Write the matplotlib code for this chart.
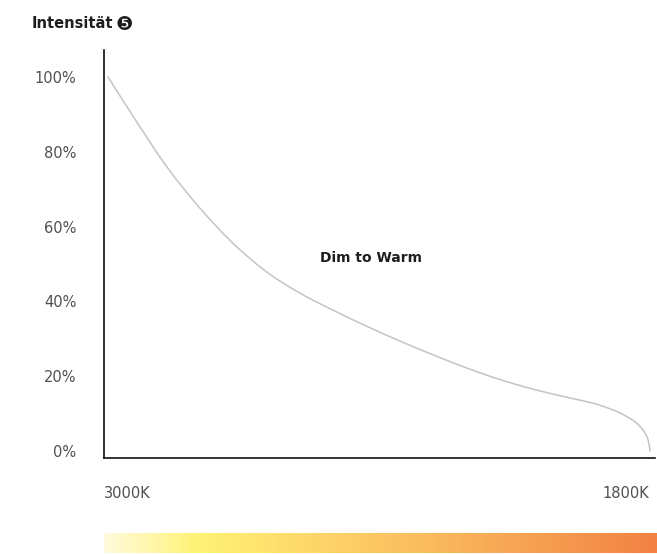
import numpy as np
import matplotlib
matplotlib.use("Agg")
import matplotlib.pyplot as plt
from matplotlib.colors import LinearSegmentedColormap
from matplotlib.path import Path
from matplotlib.patches import PathPatch

plt.rcParams["font.family"] = ["DejaVu Sans"]

# curve: colour temperature (K) vs intensity (%)
kelvin = [3000, 2944, 2870, 2797, 2723, 2649, 2575, 2501, 2428, 2354, 2280, 2206,
          2132, 2058, 1985, 1927, 1896, 1867, 1834, 1816, 1806, 1802, 1800]
intensity = [100, 89.4, 76.0, 65.0, 55.5, 47.9, 42.2, 37.6, 33.4, 29.4, 25.7, 22.2,
             19.1, 16.5, 14.4, 12.8, 11.6, 10.2, 7.9, 5.7, 3.6, 1.7, 0]
y_ticks = [0, 20, 40, 60, 80, 100]
x_labels = ["3000K", "1800K"]
title = "Intensität"
badge = "\u277a"
curve_label = "Dim to Warm"


def smooth_path(xs, ys):
    """Catmull-Rom through the points, drawn as cubic Bezier segments."""
    pts = np.column_stack([xs, ys]).astype(float)
    verts = [pts[0]]
    codes = [Path.MOVETO]
    n = len(pts)
    for i in range(n - 1):
        p0 = pts[max(i - 1, 0)]
        p1 = pts[i]
        p2 = pts[i + 1]
        p3 = pts[min(i + 2, n - 1)]
        verts += [p1 + (p2 - p0) / 6, p2 - (p3 - p1) / 6, p2]
        codes += [Path.CURVE4] * 3
    return Path(verts, codes)


W, H = 657, 554
fig = plt.figure(figsize=(W / 100, H / 100), dpi=100)
ax = fig.add_axes([104 / W, 1 - 458 / H, 551 / W, 408 / H])

ax.add_patch(PathPatch(smooth_path(kelvin, intensity), facecolor="none",
                       edgecolor="#c4c4c4", linewidth=1.1, capstyle="round"))
ax.set_xlim(3008.9, 1788.9)
ax.set_ylim(-1.87, 107.2)

for s in ["top", "right"]:
    ax.spines[s].set_visible(False)
for s in ["left", "bottom"]:
    ax.spines[s].set_color("#111111")
    ax.spines[s].set_linewidth(1.2)

ax.set_xticks([])
ax.set_yticks(y_ticks)
ax.set_yticklabels([f"{v}%" for v in y_ticks], fontsize=10.5, color="#505050")
ax.tick_params(axis="y", length=0, pad=20)

ax.text(2417, 51.6, curve_label, fontsize=10, fontweight="bold", color="#1e1e1e",
        ha="center", va="center")

fig.text(104 / W, 1 - 494 / H, x_labels[0], fontsize=10.5, color="#505050",
         ha="left", va="center")
fig.text(649 / W, 1 - 494 / H, x_labels[1], fontsize=10.5, color="#505050",
         ha="right", va="center")
fig.text(32 / W, 1 - 24 / H, title, fontsize=10.5, fontweight="bold", color="#1e1e1e",
         ha="left", va="center")
fig.text(116 / W, 1 - 24 / H, badge, fontsize=14, color="#1e1e1e",
         ha="left", va="center")

# colour temperature gradient bar
cmap = LinearSegmentedColormap.from_list(
    "warm", [(0.0, "#fffbdc"), (0.17, "#fff275"), (0.45, "#fdcd66"), (1.0, "#f28244")])
bar = fig.add_axes([104 / W, 1 - 553 / H, 553 / W, 20 / H])
bar.imshow(np.linspace(0, 1, 256).reshape(1, -1), aspect="auto", cmap=cmap)
bar.axis("off")

fig.savefig("out.png", dpi=100)
